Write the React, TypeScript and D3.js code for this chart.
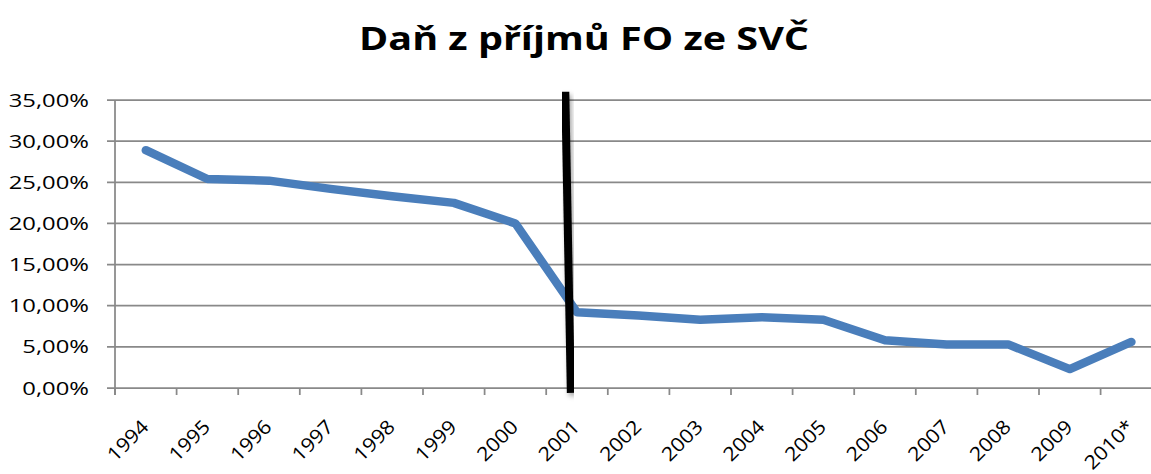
import React from "react";
import * as d3 from "d3";

const title = "Daň z příjmů FO ze SVČ";
const years = ["1994","1995","1996","1997","1998","1999","2000","2001","2002","2003","2004","2005","2006","2007","2008","2009","2010*"];
const rates = [28.9, 25.4, 25.2, 24.2, 23.3, 22.5, 20.0, 9.2, 8.8, 8.3, 8.6, 8.3, 5.8, 5.3, 5.3, 2.3, 5.6];
const yTicks = [0, 5, 10, 15, 20, 25, 30, 35];
// hand-drawn divider near 2001 (in data terms)
const dividerCategory = "2001";
const dividerTop = { value: 36.0, bandFrac: 0.31 };
const dividerBottom = { value: -0.6, bandFrac: 0.40 };

const W = 1151, H = 474;
const left = 115, top = 100, bottom = 388, band = 61.6;
const SX = 1.28; // horizontal text stretch (y labels)
const SL = 1.1; // stretch along baseline (x labels)
const FONT = "'Open Sans', 'Liberation Sans', sans-serif";

export default function App() {
  const x = d3.scaleBand<string>().domain(years).range([left, left + band * years.length]).padding(0);
  const y = d3.scaleLinear().domain([0, 35]).range([bottom, top]);
  const cx = (d: string) => (x(d) as number) + x.bandwidth() / 2;
  const line = d3.line<number>().x((_, i) => cx(years[i])).y((v) => y(v));
  const fmt = (v: number) => d3.format(".2f")(v).replace(".", ",") + "%";
  const grid = "#898989";
  const bx = x(dividerCategory) as number;
  const bw = x.bandwidth();
  const edges = years.map((d) => x(d) as number).concat([(x(years[years.length - 1]) as number) + bw]);
  return (
    <svg width={W} height={H} style={{ position: "absolute", left: 0, top: 0, background: "#fff" }}>
      <defs>
        <filter id="sh" x="-50%" y="-10%" width="200%" height="120%">
          <feDropShadow dx="2" dy="3" stdDeviation="2.5" floodColor="#000" floodOpacity="0.35" />
        </filter>
      </defs>
      <rect width={W} height={H} fill="#fff" />
      <text x={584} y={50} textAnchor="middle" fontFamily={FONT} fontWeight={700} fontSize={32}
        textLength={450} lengthAdjust="spacingAndGlyphs" fill="#000">{title}</text>
      {yTicks.map((t) => (
        <g key={t}>
          <line x1={left - 8} x2={W + 20} y1={y(t)} y2={y(t)} stroke={grid} strokeWidth={1.75} />
          <g transform={`translate(89,${y(t)}) scale(${SX},1)`}>
            <text textAnchor="end" dy="0.35em" fontFamily={FONT} fontSize={18.6} fill="#000">{fmt(t)}</text>
          </g>
        </g>
      ))}
      <line x1={left} x2={left} y1={top} y2={bottom + 7} stroke={grid} strokeWidth={1.75} />
      {edges.map((e, i) => (
        <line key={i} x1={e} x2={e} y1={bottom} y2={bottom + 7} stroke={grid} strokeWidth={1.75} />
      ))}
      {years.map((d) => (
        <g key={d} transform={`translate(${cx(d) + 4},428) rotate(-45) scale(${SL},1)`}>
          <text textAnchor="end" fontFamily={FONT} fontSize={19.4} fill="#000">{d}</text>
        </g>
      ))}
      <path d={line(rates) as string} fill="none" stroke="#4a7ebb" strokeWidth={8.5}
        strokeLinejoin="round" strokeLinecap="round" />
      <line x1={bx + bw * dividerTop.bandFrac} y1={y(dividerTop.value)}
        x2={bx + bw * dividerBottom.bandFrac} y2={y(dividerBottom.value)}
        stroke="#000" strokeWidth={8} filter="url(#sh)" />
    </svg>
  );
}
